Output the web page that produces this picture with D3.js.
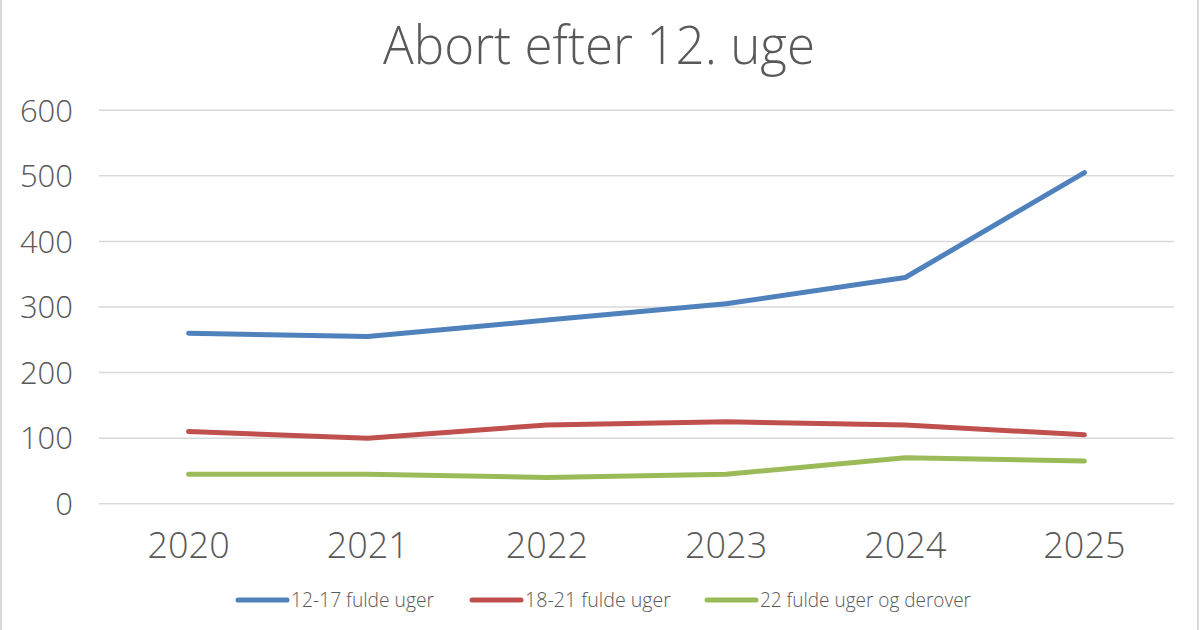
<!DOCTYPE html>
<html><head><meta charset="utf-8">
<script src="https://cdn.jsdelivr.net/npm/d3@7"></script>
<style>
body{margin:0;background:#fff;}
svg{display:block;font-family:"Open Sans",Lato,sans-serif;}
</style></head>
<body><svg id="c" width="1200" height="630"></svg>
<script>
const title = "Abort efter 12. uge";
const years = ["2020","2021","2022","2023","2024","2025"];
const yTicks = [0,100,200,300,400,500,600];
const seriesNames = ["12-17 fulde uger","18-21 fulde uger","22 fulde uger og derover"];
const seriesColors = ["#4F81BD","#C0504D","#9BBB59"];
const s1217 = [260,255,280,305,345,505];
const s1821 = [110,100,120,125,120,105];
const s22 = [45,45,40,45,70,65];
const seriesValues = [s1217,s1821,s22];

const svg = d3.select("#c");
svg.append("rect").attr("width",1200).attr("height",630).attr("fill","#fff");
svg.append("line").attr("x1",1).attr("x2",1).attr("y1",0).attr("y2",630).attr("stroke","#d9d9d9").attr("stroke-width",2);
svg.append("line").attr("x1",1198).attr("x2",1198).attr("y1",0).attr("y2",630).attr("stroke","#d9d9d9").attr("stroke-width",2);

const x = d3.scaleBand().domain(years).range([99,1174]);
const y = d3.scaleLinear().domain([0,600]).range([503.7,110.3]);

// gridlines
svg.append("g").selectAll("line").data(yTicks).join("line")
  .attr("x1",99).attr("x2",1174)
  .attr("y1",d=>y(d)).attr("y2",d=>y(d))
  .attr("stroke","#d9d9d9").attr("stroke-width",1.5);

// y axis labels
const yAxis = d3.axisLeft(y).tickValues(yTicks).tickSize(0).tickPadding(0).tickFormat(d3.format("d"));
const gy = svg.append("g").attr("transform","translate(73,0)").call(yAxis);
gy.select(".domain").remove();
gy.selectAll("text").attr("font-size",31).attr("font-weight",300).attr("fill","#595959")
  .attr("font-family","'Open Sans',sans-serif").attr("dy","0.35em");

// x axis labels
const xAxis = d3.axisBottom(x).tickSize(0).tickPadding(0);
const gx = svg.append("g").attr("transform","translate(0,558)").call(xAxis);
gx.select(".domain").remove();
gx.selectAll("text").attr("font-size",36).attr("font-weight",300).attr("fill","#595959")
  .attr("font-family","'Open Sans',sans-serif").attr("dy",0);

// lines
const line = d3.line().x((d,i)=>x(years[i])+x.bandwidth()/2).y(d=>y(d));
svg.append("g").selectAll("path").data(seriesValues).join("path")
  .attr("d",d=>line(d)).attr("fill","none")
  .attr("stroke",(d,i)=>seriesColors[i]).attr("stroke-width",5)
  .attr("stroke-linecap","round").attr("stroke-linejoin","round");

// title
svg.append("text").attr("x",599).attr("y",64).attr("text-anchor","middle")
  .attr("font-size",53).attr("font-weight",300).attr("fill","#595959")
  .attr("textLength",432).attr("lengthAdjust","spacingAndGlyphs")
  .text(title);

// legend
const legX = [238,472,707];
const legW = [143,146,211];
const lg = svg.append("g");
seriesNames.forEach((n,i)=>{
  lg.append("line").attr("x1",legX[i]).attr("x2",legX[i]+49).attr("y1",600).attr("y2",600)
    .attr("stroke",seriesColors[i]).attr("stroke-width",5).attr("stroke-linecap","round");
  lg.append("text").attr("x",legX[i]+53).attr("y",607).attr("font-size",20).attr("font-weight",300)
    .attr("fill","#595959").attr("textLength",legW[i]).attr("lengthAdjust","spacingAndGlyphs").text(n);
});
</script></body></html>
